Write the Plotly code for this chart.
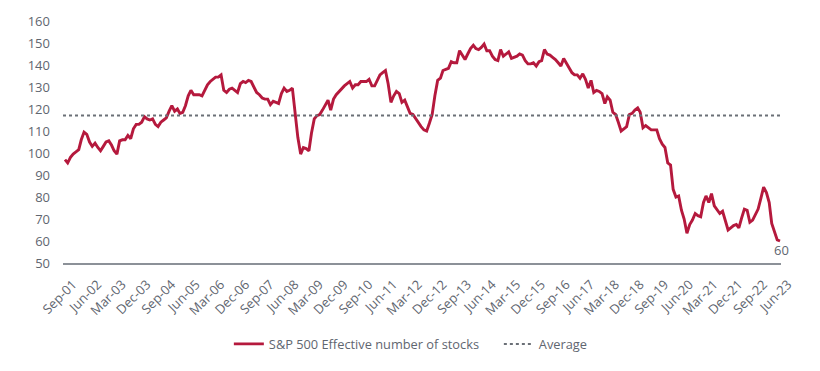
import pandas as pd
import plotly.graph_objects as go

start_month = "2001-09-01"
effective_stocks = [
    97, 95.5, 98, 99.5, 100.5, 101.5, 106, 109.5, 108.5, 105,
    103, 104.5, 102.5, 101, 103, 105, 105.5, 103.5, 101, 99.5,
    105.5, 106, 106, 108, 106.5, 111, 113, 113, 114, 116.5,
    115.5, 115, 115.5, 113, 112, 114, 115, 116, 119, 121.5,
    119, 120, 118, 118.5, 121.5, 126, 128.5, 126.5, 126.5, 126.5,
    126, 128.5, 131, 132.5, 133.5, 134.5, 134.5, 135.5, 128.5, 127.5,
    129, 129.5, 128.5, 127.5, 131.5, 132.5, 132, 133, 132.5, 130,
    127.5, 126.5, 125, 124.5, 124.5, 122, 123.5, 123, 122.5, 127,
    129.5, 128, 128.5, 129.5, 117.5, 107, 99.5, 102.5, 102, 101,
    109, 115.5, 117, 117.5, 119.5, 122, 124, 119.5, 124.5, 126.5,
    128, 129.5, 130.5, 131.5, 132.5, 129.5, 131, 131, 132.5, 132.5,
    132.5, 133.5, 130.5, 130.5, 133, 135.5, 136.5, 137.5, 131.5, 123,
    126, 128, 127, 123, 124, 120.5, 118, 117.5, 115.5, 114,
    112, 110.5, 110, 113.5, 117.5, 126, 133, 134, 137.5, 138,
    138.5, 141.5, 141, 141, 146.5, 144.5, 142.5, 145, 147.5, 149,
    147.5, 147, 148, 149.5, 146.5, 146.5, 144, 142.5, 142, 147,
    144, 145, 146, 143, 143.5, 144, 145, 144.5, 142, 140.5,
    140.5, 141, 139.5, 141.5, 142, 147, 145, 144.5, 143.5, 142.5,
    141, 139.5, 143, 141, 138.5, 136.5, 135.5, 135.5, 134, 136,
    133.5, 129.5, 133, 127.5, 128.5, 128, 127, 122.5, 125.5, 124,
    118.5, 117.5, 114, 110, 111, 112, 117.5, 118, 119.5, 120.5,
    118.5, 111.5, 112.5, 111.5, 110.5, 110.5, 110.5, 106.5, 104, 102.5,
    95.5, 94.5, 83.5, 80, 80.5, 74, 70, 63.5, 67.5, 69.5,
    72.5, 71.5, 71, 77.5, 80.5, 77.5, 81.5, 76, 74, 72.5,
    73.5, 69.5, 65, 66, 67, 67.5, 66, 70.5, 74.5, 74,
    68.5, 69.5, 72, 74.5, 79.5, 84.5, 82, 77.5, 68, 64.5,
    60.5, 60,
]
average_value = 117
tick_labels = [
    "Sep-01", "Jun-02", "Mar-03", "Dec-03", "Sep-04", "Jun-05", "Mar-06",
    "Dec-06", "Sep-07", "Jun-08", "Mar-09", "Dec-09", "Sep-10", "Jun-11",
    "Mar-12", "Dec-12", "Sep-13", "Jun-14", "Mar-15", "Dec-15", "Sep-16",
    "Jun-17", "Mar-18", "Dec-18", "Sep-19", "Jun-20", "Mar-21", "Dec-21",
    "Sep-22", "Jun-23",
]
y_ticks = [50, 60, 70, 80, 90, 100, 110, 120, 130, 140, 150, 160]
series_name = "S&P 500 Effective number of stocks"
average_name = "Average"

dates = pd.date_range(start_month, periods=len(effective_stocks), freq="MS")
tick_vals = [pd.to_datetime(t, format="%b-%y") for t in tick_labels]
x_range = [dates[0] - pd.Timedelta(days=22), dates[-1] + pd.Timedelta(days=11)]

RED = "#b5193d"
GREY_TXT = "#5f6670"
FONT = "Open Sans"

fig = go.Figure()
fig.add_trace(go.Scatter(
    x=dates, y=effective_stocks, mode="lines", name=series_name,
    line=dict(color=RED, width=2.9),
))
fig.add_trace(go.Scatter(
    x=x_range, y=[average_value, average_value], mode="lines", name=average_name,
    line=dict(color="#6b7077", width=2, dash="3px,3px"),
))
fig.add_annotation(
    x=dates[-1], y=effective_stocks[-1], text=str(round(effective_stocks[-1])),
    showarrow=False, yshift=-9, xshift=1,
    font=dict(family=FONT, size=13, color=GREY_TXT),
)

fig.update_layout(
    width=820, height=371,
    margin=dict(l=63, r=39, t=19, b=107),
    paper_bgcolor="white", plot_bgcolor="white",
    font=dict(family=FONT, size=13, color=GREY_TXT),
    showlegend=True,
    legend=dict(
        orientation="h", x=0.231, xanchor="left", y=-0.335, yanchor="middle",
        font=dict(family=FONT, size=12.8, color=GREY_TXT),
        entrywidth=225, entrywidthmode="pixels", tracegroupgap=0,
    ),
)
fig.update_xaxes(
    type="date", range=x_range, tickvals=tick_vals, ticktext=tick_labels,
    tickangle=-45, showgrid=False, zeroline=False,
    showline=True, linecolor="#8c9198", linewidth=1.5,
    ticks="", ticklabelstandoff=7, ticklabelshift=8,
    tickfont=dict(family=FONT, size=13, color=GREY_TXT),
)
fig.update_yaxes(
    range=[50, 160], tickvals=y_ticks, showgrid=False, zeroline=False,
    showline=False, ticks="", ticklabelstandoff=12,
    tickfont=dict(family=FONT, size=13, color=GREY_TXT),
)

fig.write_html(
    "out.html",
    config={"displayModeBar": False},
    post_script="document.body.style.margin='0';",
)
